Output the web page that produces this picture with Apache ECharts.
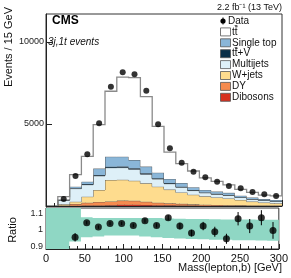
<!DOCTYPE html>
<html><head><meta charset="utf-8">
<script src="https://cdn.jsdelivr.net/npm/echarts@6/dist/echarts.min.js"></script>
<style>html,body{margin:0;padding:0;background:#fff}#c{width:291px;height:278px}</style>
</head><body><div id="c"></div>
<script>
// ---- data ----
const binStarts = [0,15,30,45,60,75,90,105,120,135,150,165,180,195,210,225,240,255,270,285];
const binWidth = 15;
const dibosons  = [0,5,20,30,30,40,80,80,60,50,40,30,25,20,15,12,10,8,7,5];
const dy        = [0,30,100,170,220,240,250,240,200,150,130,100,75,60,50,38,30,27,23,20];
const wjets     = [0,70,140,370,725,1305,1270,1220,1120,980,830,700,590,510,455,410,330,235,180,145];
const multijets = [0,250,800,730,865,751,740,700,560,465,360,315,250,215,198,190,152,145,128,110];
const ttV       = [0,5,20,40,50,60,60,60,50,45,40,35,30,25,22,20,18,15,12,10];
const singleTop = [0,40,100,140,390,610,606,500,410,340,250,220,180,150,140,130,90,90,70,80];
const ttbar     = [0,170,736,1543,2681,3988,4846,5027,4270,2824,1634,1183,983,732,618,490,383,312,242,242];
const dataCounts = [null,430,1830,3150,5040,7260,8150,8030,7030,4980,3520,2640,2090,1750,1480,1220,1080,850,710,610];
const ratioCenters = [37.5,52.5,67.5,82.5,97.5,112.5,127.5,142.5,157.5,172.5,187.5,202.5,217.5,232.5,247.5,262.5,277.5,292.5];
const ratioValues  = [0.955,1.042,1.016,1.038,1.038,1.026,1.054,1.026,1.072,1.022,0.98,1.022,0.988,0.946,1.066,1.022,1.072,0.996];
const ratioErrors  = [0.025,0.01,0.01,0.01,0.01,0.01,0.012,0.012,0.015,0.02,0.02,0.025,0.03,0.03,0.04,0.042,0.045,0.05];
const bandLow  = [0.8,0.8,0.93,0.955,0.96,0.965,0.965,0.965,0.96,0.955,0.95,0.948,0.945,0.943,0.94,0.94,0.938,0.937,0.936,0.935];
const bandHigh = [1.2,1.2,1.2,1.075,1.07,1.07,1.07,1.07,1.07,1.07,1.068,1.066,1.065,1.064,1.063,1.062,1.062,1.061,1.06,1.06];
const yTicksMain = [5000,10000];
const yTicksRatio = [0.9,1,1.1];
const legendNames = ['Data','tt\u0304','Single top','tt\u0304+V','Multijets','W+jets','DY','Dibosons'];

// ---- styling ----
const layers = [
  {name:'Dibosons', vals:dibosons, color:'#d7301f'},
  {name:'DY', vals:dy, color:'#f68b4f'},
  {name:'W+jets', vals:wjets, color:'#fedc8e'},
  {name:'Multijets', vals:multijets, color:'#def0f8'},
  {name:'tt\u0304+V', vals:ttV, color:'#0a2f48'},
  {name:'Single top', vals:singleTop, color:'#8ab6d8'},
  {name:'tt\u0304', vals:ttbar, color:'#ffffff'}
];
const FONT = '"Liberation Sans", Arial, sans-serif';
const n = binStarts.length;
const first = 1;

let cum = new Array(n).fill(0);
layers.forEach(l => {
  l.lower = cum.slice();
  l.upper = cum.map((c,i)=>c + l.vals[i]);
  cum = l.upper.slice();
});

function stepPoints(api, arr, from, to){
  const pts=[];
  for(let i=from;i<to;i++){
    pts.push(api.coord([binStarts[i], arr[i]]));
    pts.push(api.coord([binStarts[i]+binWidth, arr[i]]));
  }
  return pts;
}

const series = [];
layers.forEach((l, k) => {
  series.push({
    type:'custom', name:l.name, xAxisIndex:0, yAxisIndex:0, clip:true, silent:true, z:2+k,
    data:[[0]],
    renderItem:(params, api)=>{
      const up = stepPoints(api, l.upper, first, n);
      const lo = stepPoints(api, l.lower, first, n).reverse();
      const outline = [api.coord([binStarts[first], 0])].concat(up);
      return {type:'group', children:[
        {type:'polygon', shape:{points:up.concat(lo)}, style:{fill:l.color, stroke:null}},
        {type:'polyline', shape:{points:outline}, style:{fill:null, stroke: k===6 ? '#8a8a8a' : '#4a4a4a', lineWidth: k===6 ? 1.3 : 0.8}}
      ]};
    }
  });
});

series.push({
  type:'scatter', xAxisIndex:0, yAxisIndex:0, silent:true, z:20,
  symbol:'circle', symbolSize:6, itemStyle:{color:'#000'},
  data: binStarts.map((s,i)=> dataCounts[i]==null ? null : [s+binWidth/2, dataCounts[i]]).filter(d=>d)
});

series.push({
  type:'custom', xAxisIndex:1, yAxisIndex:1, clip:true, silent:true, z:2,
  data:[[0]],
  renderItem:(params, api)=>{
    const up = stepPoints(api, bandHigh, 0, n);
    const lo = stepPoints(api, bandLow, 0, n).reverse();
    return {type:'polygon', shape:{points:up.concat(lo)}, style:{fill:'#8fd7c4', stroke:null}};
  }
});
series.push({
  type:'custom', xAxisIndex:1, yAxisIndex:1, clip:true, silent:true, z:10,
  data: ratioCenters.map((x,i)=>[x, ratioValues[i]-ratioErrors[i], ratioValues[i]+ratioErrors[i]]),
  renderItem:(params, api)=>{
    const a = api.coord([api.value(0), api.value(1)]);
    const b = api.coord([api.value(0), api.value(2)]);
    return {type:'line', shape:{x1:a[0], y1:a[1], x2:b[0], y2:b[1]}, style:{stroke:'#000', lineWidth:1}};
  }
});
series.push({
  type:'scatter', xAxisIndex:1, yAxisIndex:1, silent:true, z:20,
  symbol:'circle', symbolSize:7, itemStyle:{color:'#000'},
  data: ratioCenters.map((x,i)=>[x, ratioValues[i]])
});

const legendG = [];
const legColors = [null,'#ffffff','#8ab6d8','#0a2f48','#def0f8','#fedc8e','#f68b4f','#d7301f'];
legendNames.forEach((nm,i)=>{
  const cy = 21 + i*10.9;
  if(i===0){
    legendG.push({type:'circle', shape:{cx:223, cy:cy, r:2.6}, style:{fill:'#000'}});
    legendG.push({type:'line', shape:{x1:223,y1:cy-3.5,x2:223,y2:cy+3.5}, style:{stroke:'#000', lineWidth:1}});
    legendG.push({type:'text', x:228, y:cy, style:{text:nm, font:'10px '+FONT, fill:'#111', textAlign:'left', textVerticalAlign:'middle'}});
  } else {
    legendG.push({type:'rect', shape:{x:220.5, y:cy-4, width:10, height:8}, style:{fill:legColors[i], stroke:'#555', lineWidth:0.8}});
    legendG.push({type:'text', x:232, y:cy, style:{text:nm, font:'10px '+FONT, fill:'#111', textAlign:'left', textVerticalAlign:'middle'}});
    if(nm.indexOf('\u0304')>=0){
      legendG.push({type:'line', shape:{x1:235.1, y1:cy-5.2, x2:237.6, y2:cy-5.2}, style:{stroke:'#111', lineWidth:0.8}});
    }
  }
});

const axisLineStyle = {show:true, lineStyle:{color:'#222', width:1}};
const option = {
  animation:false,
  backgroundColor:'#fff',
  grid:[
    {left:46, right:9, top:14, height:192, show:true, borderColor:'#333', borderWidth:1, backgroundColor:'transparent'},
    {left:46, right:9, top:208, height:41, show:true, borderColor:'#333', borderWidth:1, backgroundColor:'transparent'}
  ],
  xAxis:[
    {type:'value', gridIndex:0, min:0, max:300, interval:50, axisLine:axisLineStyle,
     axisLabel:{show:false}, splitLine:{show:false},
     axisTick:{inside:true, length:6, lineStyle:{color:'#222'}},
     minorTick:{show:true, splitNumber:5, length:3, lineStyle:{color:'#222'}}},
    {type:'value', gridIndex:1, min:0, max:300, interval:50, axisLine:axisLineStyle,
     axisLabel:{show:true, fontSize:11, color:'#111', margin:4, fontFamily:FONT},
     splitLine:{show:false},
     axisTick:{inside:true, length:5, lineStyle:{color:'#222'}},
     minorTick:{show:true, splitNumber:5, length:3, lineStyle:{color:'#222'}}}
  ],
  yAxis:[
    {type:'value', gridIndex:0, min:0, max:11700, axisLine:axisLineStyle,
     splitLine:{show:false},
     axisLabel:{fontSize:9, color:'#222', margin:2, fontFamily:FONT, customValues:yTicksMain,
       formatter:v=> String(Math.round(v))},
     axisTick:{inside:true, length:6, customValues:yTicksMain, lineStyle:{color:'#222'}}},
    {type:'value', gridIndex:1, min:0.885, max:1.13, axisLine:axisLineStyle,
     splitLine:{show:false},
     axisLabel:{fontSize:9, color:'#222', margin:3, fontFamily:FONT, customValues:yTicksRatio,
       formatter:v=> Math.abs(v-1)<1e-9 ? '1' : v.toFixed(1)},
     axisTick:{inside:true, length:5, customValues:yTicksRatio, lineStyle:{color:'#222'}}}
  ],
  series:series,
  graphic:[
    {type:'text', x:52, y:15, style:{text:'CMS', font:'bold 12px '+FONT, fill:'#000', textAlign:'left', textVerticalAlign:'top'}},
    {type:'text', x:48, y:42, style:{text:'3j,1t events', font:'italic 10px '+FONT, fill:'#111', textAlign:'left', textVerticalAlign:'middle'}},
    {type:'text', x:282, y:8, style:{text:'2.2 fb\u207B\u00B9 (13 TeV)', font:'9px '+FONT, fill:'#111', textAlign:'right', textVerticalAlign:'middle'}},
    {type:'text', x:9, y:7, rotation:Math.PI/2, style:{text:'Events / 15 GeV', font:'11px '+FONT, fill:'#111', textAlign:'right', textVerticalAlign:'middle'}},
    {type:'text', x:13, y:230, rotation:Math.PI/2, style:{text:'Ratio', font:'11px '+FONT, fill:'#111', textAlign:'center', textVerticalAlign:'middle'}},
    {type:'text', x:282, y:268, style:{text:'Mass(lepton,b) [GeV]', font:'11px '+FONT, fill:'#111', textAlign:'right', textVerticalAlign:'middle'}}
  ].concat(legendG)
};
const chart = echarts.init(document.getElementById('c'), null, {renderer:'canvas'});
chart.setOption(option);
</script>
</body></html>
